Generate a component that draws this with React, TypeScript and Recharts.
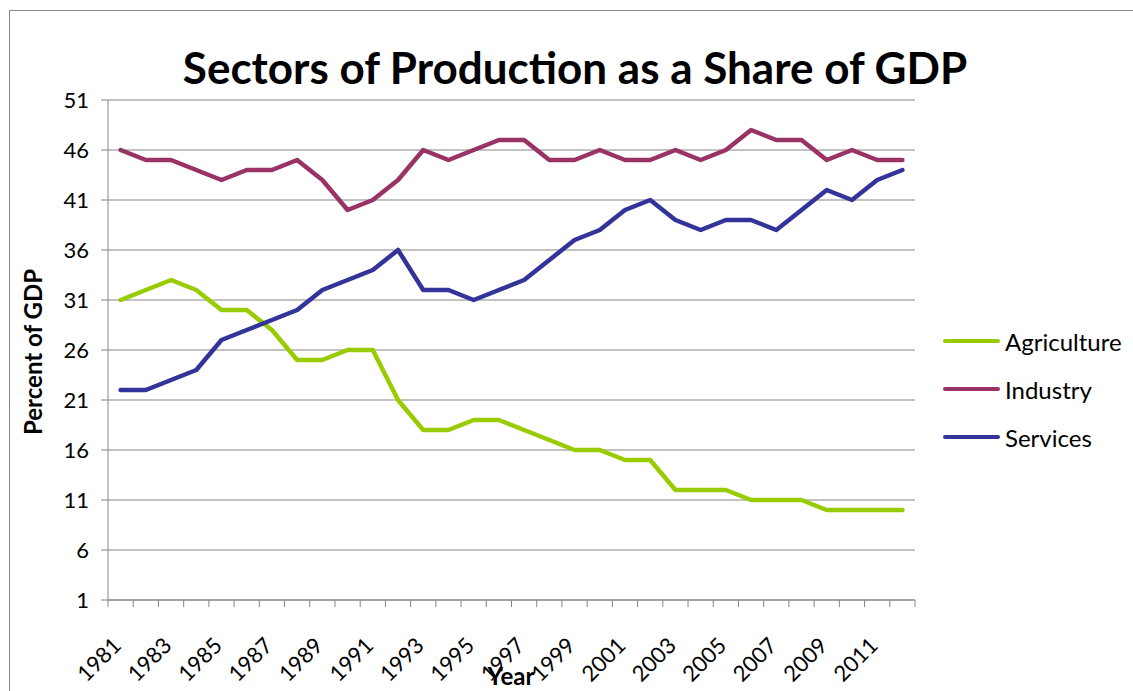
import { CartesianGrid, Legend, Line, LineChart, XAxis, YAxis } from "recharts";

const years = [
  "1981", "1982", "1983", "1984", "1985", "1986", "1987", "1988",
  "1989", "1990", "1991", "1992", "1993", "1994", "1995", "1996",
  "1997", "1998", "1999", "2000", "2001", "2002", "2003", "2004",
  "2005", "2006", "2007", "2008", "2009", "2010", "2011", "2012",
];

const agriculture = [
  31, 32, 33, 32, 30, 30, 28, 25, 25, 26, 26, 21, 18, 18, 19, 19,
  18, 17, 16, 16, 15, 15, 12, 12, 12, 11, 11, 11, 10, 10, 10, 10,
];

const industry = [
  46, 45, 45, 44, 43, 44, 44, 45, 43, 40, 41, 43, 46, 45, 46, 47,
  47, 45, 45, 46, 45, 45, 46, 45, 46, 48, 47, 47, 45, 46, 45, 45,
];

const services = [
  22, 22, 23, 24, 27, 28, 29, 30, 32, 33, 34, 36, 32, 32, 31, 32,
  33, 35, 37, 38, 40, 41, 39, 38, 39, 39, 38, 40, 42, 41, 43, 44,
];

const yTicks = [1, 6, 11, 16, 21, 26, 31, 36, 41, 46, 51];

const series = [
  { key: "Agriculture", color: "#99CC00" },
  { key: "Industry", color: "#993366" },
  { key: "Services", color: "#333399" },
];

const data = years.map((year, i) => ({
  year,
  Agriculture: agriculture[i],
  Industry: industry[i],
  Services: services[i],
}));

const FONT = "Lato, 'Open Sans', sans-serif";
const AXIS_GRAY = "#868686";
const PLOT_LEFT = 108;
const PLOT_RIGHT = 915;
const STEP = (PLOT_RIGHT - PLOT_LEFT) / years.length;

function YearTick(props: any) {
  const { x, y, payload, index } = props;
  const left = x - STEP / 2;
  const right = x + STEP / 2;
  const tx = x + 2;
  const ty = y + 47;
  return (
    <g>
      <line x1={left} x2={left} y1={y} y2={y + 7} stroke={AXIS_GRAY} />
      {index === years.length - 1 && (
        <line x1={right} x2={right} y1={y} y2={y + 7} stroke={AXIS_GRAY} />
      )}
      {index % 2 === 0 && (
        <text
          x={tx}
          y={ty}
          textAnchor="end"
          transform={`rotate(-45 ${tx} ${ty})`}
          fontSize={22}
          fontFamily={FONT}
          fill="#000"
        >
          {payload.value}
        </text>
      )}
    </g>
  );
}

function renderLegend(props: any) {
  const items = props.payload || [];
  return (
    <div style={{ fontFamily: FONT }}>
      {items.map((item: any) => (
        <div
          key={item.value}
          style={{ display: "flex", alignItems: "center", height: 48 }}
        >
          <span
            style={{
              display: "inline-block",
              width: 57,
              height: 4,
              borderRadius: 2,
              background: item.color,
              marginRight: 5,
            }}
          />
          <span style={{ fontSize: 24, color: "#000" }}>{item.value}</span>
        </div>
      ))}
    </div>
  );
}

export default function App() {
  return (
    <div style={{ position: "relative", width: 1133, height: 691, overflow: "hidden" }}>
      <style>{`body{margin:0;overflow:hidden;background:#fff}`}</style>
      <div
        style={{
          position: "absolute",
          left: 9,
          top: 10,
          width: 1140,
          height: 700,
          border: `1px solid ${AXIS_GRAY}`,
        }}
      />
      <div
        style={{
          position: "absolute",
          left: 0,
          top: 41,
          width: 1150,
          textAlign: "center",
          fontFamily: FONT,
          fontWeight: 700,
          fontSize: 44,
          lineHeight: "52px",
          color: "#000",
        }}
      >
        Sectors of Production as a Share of GDP
      </div>
      <div style={{ position: "absolute", left: 0, top: 0 }}>
        <LineChart
          width={1133}
          height={691}
          data={data}
          margin={{ top: 100, right: 1133 - PLOT_RIGHT, bottom: 0, left: 0 }}
        >
          <CartesianGrid vertical={false} stroke={AXIS_GRAY} strokeWidth={1} />
          <XAxis
            dataKey="year"
            interval={0}
            height={91}
            padding={{ left: STEP / 2, right: STEP / 2 }}
            axisLine={{ stroke: AXIS_GRAY }}
            tickLine={false}
            tickSize={0}
            tickMargin={0}
            tick={<YearTick />}
            label={{
              content: () => (
                <text
                  x={511}
                  y={685}
                  textAnchor="middle"
                  fontSize={24}
                  fontWeight={700}
                  fontFamily={FONT}
                  fill="#000"
                >
                  Year
                </text>
              ),
            }}
          />
          <YAxis
            width={PLOT_LEFT}
            domain={[1, 51]}
            ticks={yTicks}
            interval={0}
            axisLine={{ stroke: AXIS_GRAY }}
            tickLine={{ stroke: AXIS_GRAY }}
            tickSize={7}
            tickMargin={12}
            tick={{ fontSize: 22, fontFamily: FONT, fill: "#000" }}
            label={{
              content: () => (
                <text
                  x={42}
                  y={352}
                  textAnchor="middle"
                  transform="rotate(-90 42 352)"
                  fontSize={24}
                  fontWeight={700}
                  fontFamily={FONT}
                  fill="#000"
                >
                  Percent of GDP
                </text>
              ),
            }}
          />
          <Legend
            layout="horizontal"
            verticalAlign="middle"
            align="center"
            content={renderLegend}
            wrapperStyle={{ left: 943, top: 317, width: 190 }}
          />
          {series.map((s) => (
            <Line
              key={s.key}
              type="linear"
              dataKey={s.key}
              stroke={s.color}
              strokeWidth={4.5}
              strokeLinejoin="round"
              strokeLinecap="round"
              dot={false}
              activeDot={false}
              isAnimationActive={false}
            />
          ))}
        </LineChart>
      </div>
    </div>
  );
}
